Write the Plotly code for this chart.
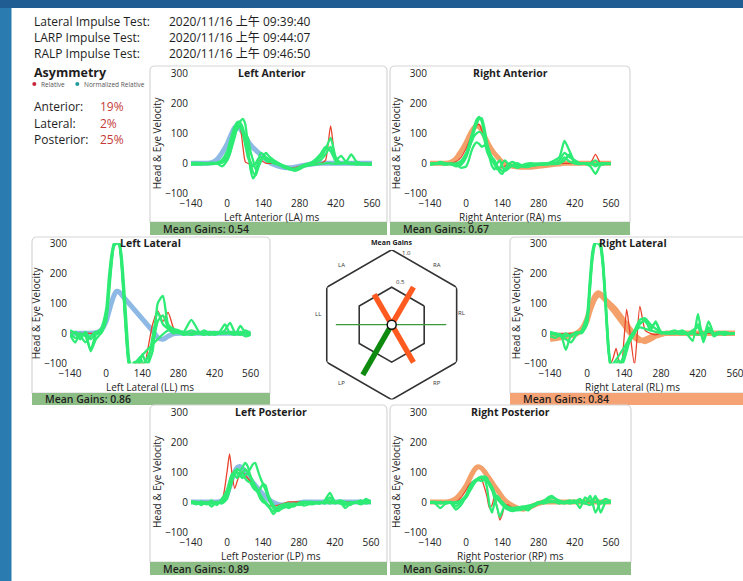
import math
import plotly.graph_objects as go

W, H = 743, 581
FONT = "'Open Sans', 'Noto Sans CJK TC', sans-serif"

# ---------------- data ----------------
# sample times (ms) shared by every impulse trace
T = [-140, -120, -100, -80, -60, -40, -20,
     0, 10, 20, 30, 40, 50, 60, 70, 80, 90,
     100, 110, 120, 130, 140, 150, 160,
     180, 200, 220, 240, 260, 280, 300,
     330, 360, 380, 400, 420, 440, 460, 480, 500, 520, 540, 560]

XTICKS = [-140, 0, 140, 280, 420, 560]
YTICKS = [-100, 0, 100, 200, 300]

TEST_NAMES = ["Lateral Impulse Test:", "LARP Impulse Test:", "RALP Impulse Test:"]
TEST_TIMES = ["2020/11/16 上午 09:39:40", "2020/11/16 上午 09:44:07", "2020/11/16 上午 09:46:50"]

ASYM_LABELS = ["Anterior:", "Lateral:", "Posterior:"]
ASYM_PERCENT = [19, 2, 25]

CANALS = ["LA", "RA", "LL", "RL", "LP", "RP"]
MEAN_GAINS = [0.54, 0.67, 0.86, 0.84, 0.89, 0.67]
CANAL_ANGLES = [120, 60, 180, 0, 240, 300]
RADAR_LEVELS = [0.5, 1.0]

# Left Anterior
LA_HEAD = [0, 0, 0, 0, 2, 12, 35, 65, 85, 105, 120, 122, 115, 102, 88, 74, 62,
           52, 44, 36, 28, 20, 12, 5, -4, -10, -14, -15, -13, -10, -6,
           -2, 0, 0, 0, 0, 0, 0, 0, 0, 0, 0, 0]
LA_RED = [0, 0, 0, 0, 0, 0, 5, 20, 45, 75, 105, 125, 120, 60, 5, 0, -5,
          -10, 0, 10, 10, 5, 0, 0, 0, -5, -10, -15, -15, -10, -5,
          0, 0, 10, 125, 10, 0, 0, 0, 0, 0, 0, 0]
LA_EYES = [
    [-2, -4, -2, 0, -3, 0, 5, 25, 50, 80, 110, 130, 135, 120, 80, 30, 5,
     -10, 0, 15, 20, 18, 12, 8, 0, -5, -10, -18, -22, -18, -10,
     -5, -2, 0, 0, -2, 0, 0, -3, -2, -4, -3, -3],
    [0, 2, 0, -3, -2, 2, 12, 40, 70, 100, 125, 138, 140, 148, 130, 60, -20,
     -50, -35, 10, 35, 30, 20, 15, 5, -5, -15, -20, -25, -20, -8,
     0, 20, 45, 85, 20, 0, 5, 30, 5, 0, -2, 0],
    [-5, -3, -4, -2, 0, -2, 2, 15, 35, 65, 95, 115, 128, 110, 95, 85, 40,
     10, -20, -10, 5, 25, 35, 25, 10, 0, -10, -15, -18, -15, -5,
     5, 30, 55, 40, 10, 25, 5, 0, -4, -2, 0, -2],
    [2, 0, 1, 0, 2, 0, -10, 10, 30, 60, 90, 125, 120, 100, 60, 20, 0,
     -30, -40, -15, 10, 20, 10, 5, 8, -2, -8, -15, -20, -12, -4,
     0, 10, 30, 55, 5, 0, 0, 2, 0, -3, -4, -5],
]

# Right Anterior
RA_HEAD = [0, 0, 0, 0, 3, 15, 40, 70, 88, 105, 118, 125, 122, 110, 92, 74, 58,
           44, 32, 22, 12, 4, -2, -6, -10, -12, -13, -13, -12, -10, -8,
           -5, -2, 0, 0, 0, 0, 0, 0, 0, 0, 0, 0]
RA_RED = [0, 0, 0, 0, 0, 5, 20, 50, 70, 90, 110, 125, 130, 110, 80, 50, 30,
          10, 0, -10, -15, -15, -10, -5, -5, -8, -10, -10, -8, -5, -3,
          0, 0, 0, 0, 0, 0, 0, 0, 30, 0, 0, 0]
RA_EYES = [
    [0, -3, -2, 0, -2, 0, 8, 35, 60, 90, 120, 145, 155, 140, 100, 60, 30,
     10, -5, -15, -20, -25, -20, -15, -8, -10, -12, -10, -8, -5, -5,
     -3, 0, 10, 30, 0, -2, 0, 0, -3, 0, -2, -3],
    [-5, -2, 5, 0, -3, -10, -5, 20, 45, 75, 105, 130, 148, 150, 120, 70, 40,
     20, 10, -10, -30, -35, -20, -5, 5, -5, -8, -6, -3, 0, -2,
     5, 20, 75, 40, 5, 0, -2, -10, -35, -5, 0, 0],
    [0, 0, -2, -5, 0, -3, -15, -10, 10, 40, 60, 70, 65, 55, 60, 50, 30,
     15, 0, -20, -15, 0, 10, 0, -10, -15, -5, 0, 0, -3, 0,
     0, 10, 35, 20, 10, 0, 0, 0, 10, -5, -3, -2],
    [-3, 0, 0, -2, -4, -2, 0, 25, 50, 70, 90, 100, 105, 100, 80, 40, 20,
     -10, -20, 0, 10, -10, -25, -20, -5, 0, -10, -12, -5, -2, 0,
     0, 0, 20, 5, 0, -3, 0, 0, -10, 0, 0, -2],
]

# Left Lateral
LL_HEAD = [0, 0, 0, 0, 0, 2, 10, 40, 70, 100, 125, 140, 138, 128, 118, 108, 98,
           88, 78, 68, 58, 48, 38, 28, 8, -14, -20, -10, -2, 0, 0,
           0, 0, 0, 0, 0, 0, 0, 0, 0, 0, 0, 0]
LL_RED = [0, 0, 0, 0, 0, 0, 5, 50, 140, 230, 290, 300, 295, 220, 90, -40, -110,
          -110, -100, None, None, -100, -100, -60, 30, 75, 40, 70, 20, 0, 0,
          0, 0, 0, 0, 0, 0, 0, 0, 0, 0, 0, 0]
LL_EYES = [
    [-5, -30, 0, -10, -55, -5, 5, 60, 150, 240, 295, 305, 300, 230, 100, -30, -110,
     -110, -105, -95, -100, -110, -100, -80, -40, 40, 60, 20, 10, 5, 0,
     10, 0, -5, 0, 5, 0, 10, 35, 0, -5, 10, 0],
    [10, 0, -20, 5, -20, 0, 15, 80, 180, 260, 300, 310, 305, 260, 150, 20, -90,
     -110, -110, -110, -80, -95, -110, -105, -60, 100, 125, 30, 15, 10, 5,
     45, 5, 0, -5, 0, 5, 30, 0, -5, 25, 0, -5],
    [0, -15, -10, -30, -10, 5, 0, 40, 120, 220, 290, 300, 300, 240, 110, -10, -100,
     -105, -95, -110, -100, -70, -90, -100, -10, 70, 30, 15, 0, 5, -5,
     0, 0, 10, 0, -5, 0, 0, 5, 0, 0, -10, -5],
    [-10, 5, -5, 0, -60, -20, 0, 50, 140, 230, 290, 300, 295, 220, 90, -40, -110,
     -110, -100, None, None, None, None, None, None, None, None, 10, 5, 0, 0,
     -5, 0, 0, 5, 0, 0, 0, 0, 0, 5, 0, 0],
]

# Right Lateral
RL_HEADS = [
    [-15, -12, -10, -8, -5, 0, 15, 50, 80, 105, 125, 135, 132, 122, 110, 98, 86,
     75, 64, 52, 40, 28, 15, 4, -15, -25, -20, -12, -6, -3, 0,
     0, 0, 0, 0, 0, 0, 0, 0, 0, 0, 0, 0],
    [-20, -18, -15, -12, -8, -2, 10, 40, 70, 95, 115, 125, 128, 120, 112, 104, 96,
     88, 78, 66, 54, 42, 30, 18, -5, -20, -28, -20, -10, -4, 0,
     0, 0, 0, 0, 0, 0, 0, 0, 0, 0, 0, 0],
]
RL_RED = [0, 0, 0, 0, 0, 0, 5, 40, 140, 250, 300, 305, 300, 230, 100, -40, -100,
          -80, -50, -90, -110, -20, 80, 20, -105, 90, 10, 0, -5, 0, 0,
          0, 0, 0, 0, 0, 0, 0, 0, 0, 0, 0, 0]
RL_EYES = [
    [0, -5, -3, -55, -5, 0, 5, 40, 150, 250, 300, 310, 305, 250, 120, -20, -110,
     -110, -105, -110, -95, -70, -40, -15, 10, 45, 50, 30, 15, 5, 0,
     0, 5, 0, 10, 20, -20, 40, 0, 5, 0, -3, 0],
    [-10, -15, -5, -20, -30, -5, 10, 60, 170, 270, 305, 310, 300, 230, 100, -40, -110,
     -110, -110, -100, -110, -90, -60, -30, 0, 35, 40, 20, 35, 5, 0,
     10, 0, -5, -25, 65, -30, 20, -10, 0, 5, 0, -2],
    [5, 0, -10, 0, -10, 5, 0, 30, 130, 240, 295, 305, 300, 240, 110, -30, -100,
     -105, -100, -90, -100, -80, -50, -20, 5, 30, 45, 10, 40, 0, 5,
     0, 10, 0, 0, 30, 0, 10, 0, 0, -5, 0, 0],
    [-5, 0, -5, -10, -5, 0, 5, 50, 140, 260, 300, 300, 290, 220, 90, -50, -105,
     -100, None, None, None, None, None, None, 5, 20, 15, 10, 5, 0, 0,
     0, -3, 0, 0, -5, 0, 5, 0, -3, 0, 0, 0],
]

# Left Posterior
LP_HEAD = [0, 0, 0, 0, 0, 0, 5, 25, 50, 78, 100, 115, 118, 112, 102, 90, 78,
           66, 55, 45, 35, 26, 18, 10, -2, -8, -10, -8, -5, -3, 0,
           0, 0, 0, 0, 0, 0, 0, 0, 0, 0, 0, 0]
LP_RED = [0, 0, 0, 0, 0, 0, 5, 100, 160, 90, 45, 70, 95, 100, 90, 80, 70,
          60, 45, 30, 15, 5, -5, -10, -15, -10, -5, 0, 0, 0, 0,
          0, 0, 0, 0, 0, 0, 0, 0, 0, 0, 0, 0]
LP_EYES = [
    [0, -5, 2, -8, 0, -5, 5, 30, 60, 85, 100, 110, 105, 115, 130, 120, 90,
     70, 55, 40, 25, 10, 0, -10, -40, -20, -10, -15, -5, -10, -5,
     0, -5, 5, 30, 0, -5, -10, 0, -3, 5, -5, 0],
    [-5, 0, -10, 0, -15, 0, 0, 20, 45, 75, 95, 100, 85, 95, 110, 100, 110,
     125, 130, 105, 80, 60, 40, 15, -20, -30, -15, -20, -10, -5, -12,
     -5, 0, -5, 5, -5, 0, -20, -5, 0, -8, 0, -3],
    [3, 0, -3, -5, 5, -10, 10, 40, 70, 95, 90, 80, 100, 95, 80, 70, 65,
     50, 40, 35, 45, 60, 55, 25, -10, -25, -20, -10, -15, -3, 0,
     -8, -2, 0, 15, 0, -3, -5, -10, 0, 0, 5, -5],
    [0, -8, 0, -3, -5, 0, -5, 10, 40, 70, 105, 95, 90, 80, 90, 95, 85,
     60, 50, 30, 10, 0, -5, -15, -30, -15, -8, -5, -12, -5, 0,
     0, -5, 0, -5, 0, 5, 0, -3, 0, -5, 10, 0],
]

# Right Posterior
RP_HEAD = [0, 0, 0, 0, 3, 12, 30, 55, 72, 90, 105, 115, 117, 112, 102, 90, 78,
           65, 52, 40, 28, 16, 6, -2, -12, -20, -24, -20, -12, -5, 0,
           0, 0, 0, 0, 0, 0, 0, 0, 0, 0, 0, 0]
RP_RED = [0, 0, 0, 0, 0, 0, 15, 40, 55, 65, 70, 75, 80, 75, 50, 20, -20,
          -10, 20, -20, -60, -40, -10, -10, -20, -25, -20, -15, -10, -5, 0,
          0, 0, 0, 0, 0, 0, 0, 0, 0, 0, 0, 0]
RP_EYES = [
    [0, -5, -20, -5, 0, -15, 0, 15, 30, 45, 60, 70, 78, 82, 85, 80, 60,
     40, 25, 10, 0, -10, -15, -20, -25, -28, -25, -20, -15, -5, 0,
     15, 5, 0, -5, 0, 10, -5, 20, -35, 0, 10, 0],
    [-3, 0, -5, 0, -3, -25, -10, 20, 40, 55, 65, 72, 80, 85, 78, 50, -10,
     -35, 0, 20, 10, -5, -20, -25, -30, -25, -22, -28, -10, -3, 5,
     20, 0, -5, 0, 5, -20, 15, 0, 15, -5, 0, 5],
    [0, 0, -3, -2, 0, -5, 5, 25, 45, 60, 70, 75, 72, 70, 75, 70, 55,
     40, 10, -20, -50, -30, -10, -15, -20, -18, -15, -12, -8, 0, -5,
     5, -5, 0, 5, 0, 0, -5, -10, 20, -35, 0, -2],
    [-2, -3, 0, -5, -2, 0, 3, 18, 38, 52, 65, 75, 82, 80, 76, 72, 65,
     50, 30, 15, 5, 0, -10, -18, -22, -25, -20, -18, -10, -5, -2,
     0, 0, 0, 0, -3, 0, 0, 5, 0, 0, -3, 0],
]

# ---------------- styles ----------------
BLUE_HEAD = "#8DB9E4"
ORANGE_HEAD = "#F4A06A"
EYE_GREEN = "#2DEB74"
RED = "#E8432B"
BAR_GREEN = "#8DBE86"
BAR_ORANGE = "#F5A274"
TEXT = "#1E1E1E"
PCT_RED = "#C53A3A"
GAIN_LOW = "#FF5A1F"
GAIN_OK = "#0E8A0E"


def X(x):
    return x / W


def Y(y):
    return 1 - y / H


panels = [
    dict(title="Left Anterior", xlabel="Left Anterior (LA) ms", heads=[LA_HEAD], head_color=BLUE_HEAD,
         red=LA_RED, eyes=LA_EYES, box=(150, 66, 387, 222, 235), plot=(191, 73.3, 372, 193.3),
         bar=BAR_GREEN, gain=MEAN_GAINS[0]),
    dict(title="Right Anterior", xlabel="Right Anterior (RA) ms", heads=[RA_HEAD], head_color=ORANGE_HEAD,
         red=RA_RED, eyes=RA_EYES, box=(390, 66, 630, 222, 235), plot=(430, 73.3, 611, 193.3),
         bar=BAR_GREEN, gain=MEAN_GAINS[1]),
    dict(title="Left Lateral", xlabel="Left Lateral (LL) ms", heads=[LL_HEAD], head_color=BLUE_HEAD,
         red=LL_RED, eyes=LL_EYES, box=(32, 237, 270, 393, 405), plot=(70, 243.3, 250.7, 363.3),
         bar=BAR_GREEN, gain=MEAN_GAINS[2]),
    dict(title="Right Lateral", xlabel="Right Lateral (RL) ms", heads=RL_HEADS, head_color=ORANGE_HEAD,
         red=RL_RED, eyes=RL_EYES, box=(510, 237, 760, 393, 405), plot=(550, 243.3, 735, 363.3),
         bar=BAR_ORANGE, gain=MEAN_GAINS[3]),
    dict(title="Left Posterior", xlabel="Left Posterior (LP) ms", heads=[LP_HEAD], head_color=BLUE_HEAD,
         red=LP_RED, eyes=LP_EYES, box=(150, 405, 387, 562, 575), plot=(191, 412, 371, 532),
         bar=BAR_GREEN, gain=MEAN_GAINS[4]),
    dict(title="Right Posterior", xlabel="Right Posterior (RP) ms", heads=[RP_HEAD], head_color=ORANGE_HEAD,
         red=RP_RED, eyes=RP_EYES, box=(390, 405, 631, 562, 575), plot=(430, 412, 611, 532),
         bar=BAR_GREEN, gain=MEAN_GAINS[5]),
]

fig = go.Figure()
layout_axes = {}
annotations = []
shapes = []


def rounded_top_box(x0, y0, x1, y1, r=5):
    return (f"M {X(x0 + r)},{Y(y0)} L {X(x1 - r)},{Y(y0)} "
            f"Q {X(x1)},{Y(y0)} {X(x1)},{Y(y0 + r)} L {X(x1)},{Y(y1)} "
            f"L {X(x0)},{Y(y1)} L {X(x0)},{Y(y0 + r)} "
            f"Q {X(x0)},{Y(y0)} {X(x0 + r)},{Y(y0)} Z")


# page background strips
shapes.append(dict(type="rect", xref="paper", yref="paper", x0=0, x1=X(11.5), y0=0, y1=1,
                   fillcolor="#2A7BB0", line=dict(width=0)))
shapes.append(dict(type="rect", xref="paper", yref="paper", x0=0, x1=1, y0=Y(8), y1=1,
                   fillcolor="#1F5D92", line=dict(width=0)))

for i, p in enumerate(panels, start=1):
    xa = "x" if i == 1 else f"x{i}"
    ya = "y" if i == 1 else f"y{i}"
    bx0, by0, bx1, by1, bar_bottom = p["box"]
    qx0, qy0, qx1, qy1 = p["plot"]

    axis_common = dict(showgrid=False, zeroline=False, showline=False, ticks="", automargin=False,
                       fixedrange=True, ticklabeloverflow="allow",
                       tickfont=dict(size=10, color="#222", family=FONT))
    layout_axes["xaxis" if i == 1 else f"xaxis{i}"] = dict(
        domain=[X(qx0), X(qx1)], range=[-140, 560], anchor=ya, tickvals=XTICKS,
        ticklabelstandoff=3, **axis_common)
    layout_axes["yaxis" if i == 1 else f"yaxis{i}"] = dict(
        domain=[Y(qy1), Y(qy0)], range=[-100, 300], anchor=xa, tickvals=YTICKS,
        ticklabelstandoff=2, **axis_common)

    for head in p["heads"]:
        fig.add_trace(go.Scatter(x=T, y=head, xaxis=xa, yaxis=ya, mode="lines",
                                 line=dict(color=p["head_color"], width=5, shape="spline", smoothing=0.7),
                                 hoverinfo="skip", connectgaps=True))
    fig.add_trace(go.Scatter(x=T, y=p["red"], xaxis=xa, yaxis=ya, mode="lines",
                             line=dict(color=RED, width=1.3, shape="spline", smoothing=0.6),
                             hoverinfo="skip", connectgaps=True))
    for eye in p["eyes"]:
        fig.add_trace(go.Scatter(x=T, y=eye, xaxis=xa, yaxis=ya, mode="lines",
                                 line=dict(color=EYE_GREEN, width=2.3, shape="spline", smoothing=0.6),
                                 hoverinfo="skip", connectgaps=True))

    # panel frame and gain bar
    shapes.append(dict(type="path", xref="paper", yref="paper", path=rounded_top_box(bx0, by0, bx1, by1),
                       line=dict(color="#D6D6D6", width=1.2)))
    shapes.append(dict(type="rect", xref="paper", yref="paper", x0=X(bx0), x1=X(min(bx1, W)),
                       y0=Y(bar_bottom), y1=Y(by1), fillcolor=p["bar"], line=dict(width=0)))

    cx = (qx0 + qx1) / 2
    annotations += [
        dict(text=f"<b>{p['title']}</b>", x=X(cx - 10), y=Y(qy0), xanchor="center", yanchor="middle",
             font=dict(size=10.5, color=TEXT)),
        dict(text=p["xlabel"], x=X(cx - 10), y=Y(qy1 + 24), xanchor="center", yanchor="middle",
             font=dict(size=10, color=TEXT)),
        dict(text="Head & Eye Velocity", x=X(qx0 - 34), y=Y((qy0 + qy1) / 2 + 10), textangle=-90,
             xanchor="center", yanchor="middle", font=dict(size=10, color=TEXT)),
        dict(text=f"Mean Gains: {p['gain']:.2f}", x=X(bx0 + 11), y=Y((by1 + bar_bottom) / 2),
             xanchor="left", yanchor="middle", font=dict(size=10.5, color=TEXT, weight=600)),
    ]

# ---------------- radar of mean gains ----------------
hex_theta = [30, 90, 150, 210, 270, 330, 30]
for lvl in RADAR_LEVELS:
    fig.add_trace(go.Scatterpolar(r=[lvl / math.cos(math.pi / 6)] * len(hex_theta), theta=hex_theta,
                                  mode="lines", line=dict(color="#333333", width=1.6), hoverinfo="skip"))
for canal, gain, ang in zip(CANALS, MEAN_GAINS, CANAL_ANGLES):
    lateral = canal in ("LL", "RL")
    color = GAIN_LOW if gain < 0.8 else ("#3A9A3A" if lateral else GAIN_OK)
    fig.add_trace(go.Scatterpolar(r=[0, gain], theta=[ang, ang], mode="lines",
                                  line=dict(color=color, width=1.2 if lateral else 5.5), hoverinfo="skip"))
fig.add_trace(go.Scatterpolar(r=[0], theta=[0], mode="markers",
                              marker=dict(size=9, color="white", line=dict(color="#111", width=1.5)),
                              hoverinfo="skip"))

radar_label_pos = {"LA": (341.7, 265), "RA": (436.7, 265), "LL": (317.7, 314),
                   "RL": (461, 313), "LP": (341, 383), "RP": (436.7, 383)}
for canal in CANALS:
    lx, ly = radar_label_pos[canal]
    annotations.append(dict(text=canal, x=X(lx), y=Y(ly), xanchor="center", yanchor="middle",
                            font=dict(size=6, color="#333")))
annotations += [
    dict(text="<b>Mean Gains</b>", x=X(391.7), y=Y(242.7), xanchor="center", yanchor="middle",
         font=dict(size=7, color="#222")),
    dict(text="1.0", x=X(406.7), y=Y(253.3), xanchor="center", yanchor="middle", font=dict(size=6, color="#333")),
    dict(text="0.5", x=X(400), y=Y(282), xanchor="center", yanchor="middle", font=dict(size=6, color="#333")),
]

# ---------------- header text ----------------
for k, (name, when) in enumerate(zip(TEST_NAMES, TEST_TIMES)):
    yy = 22 + k * 15.8
    annotations.append(dict(text=name, x=X(31.7), y=Y(yy), xanchor="left", yanchor="middle",
                            font=dict(size=12, color=TEXT)))
    annotations.append(dict(text=when, x=X(166.7), y=Y(yy), xanchor="left", yanchor="middle",
                            font=dict(size=12, color=TEXT)))

annotations.append(dict(text="<b>Asymmetry</b>", x=X(31.7), y=Y(72), xanchor="left", yanchor="middle",
                        font=dict(size=12.5, color=TEXT)))
shapes.append(dict(type="circle", xref="paper", yref="paper", x0=X(32.3), x1=X(36.3), y0=Y(86), y1=Y(82),
                   fillcolor="#C8283A", line=dict(width=0)))
shapes.append(dict(type="circle", xref="paper", yref="paper", x0=X(75.3), x1=X(79.3), y0=Y(86), y1=Y(82),
                   fillcolor="#1E9A9A", line=dict(width=0)))
annotations.append(dict(text="Relative", x=X(39), y=Y(84), xanchor="left", yanchor="middle",
                        font=dict(size=6.5, color="#555")))
annotations.append(dict(text="Normalized Relative", x=X(81.5), y=Y(84), xanchor="left", yanchor="middle",
                        font=dict(size=6.5, color="#555")))
for k, (lab, pct) in enumerate(zip(ASYM_LABELS, ASYM_PERCENT)):
    yy = 107 + k * 16
    annotations.append(dict(text=lab, x=X(31.7), y=Y(yy), xanchor="left", yanchor="middle",
                            font=dict(size=12, color=TEXT)))
    annotations.append(dict(text=f"{pct}%", x=X(98.3), y=Y(yy), xanchor="left", yanchor="middle",
                            font=dict(size=12, color=PCT_RED)))

for a in annotations:
    a.setdefault("showarrow", False)
    a.setdefault("xref", "paper")
    a.setdefault("yref", "paper")
    a["font"].setdefault("family", FONT)

fig.update_layout(
    width=W, height=H, margin=dict(l=0, r=0, t=0, b=0, pad=0, autoexpand=False),
    paper_bgcolor="white", plot_bgcolor="white", showlegend=False,
    font=dict(family=FONT, color=TEXT),
    annotations=annotations, shapes=shapes,
    polar=dict(domain=dict(x=[X(316.7), X(466.7)], y=[Y(399.7), Y(249.7)]),
               bgcolor="rgba(0,0,0,0)",
               radialaxis=dict(visible=False, range=[0, 1 / math.cos(math.pi / 6)], showgrid=False,
                               showline=False, showticklabels=False, ticks=""),
               angularaxis=dict(visible=False, rotation=0, direction="counterclockwise", showgrid=False,
                                showline=False, showticklabels=False, ticks="")),
    **layout_axes,
)

fig.write_html("out.html")
